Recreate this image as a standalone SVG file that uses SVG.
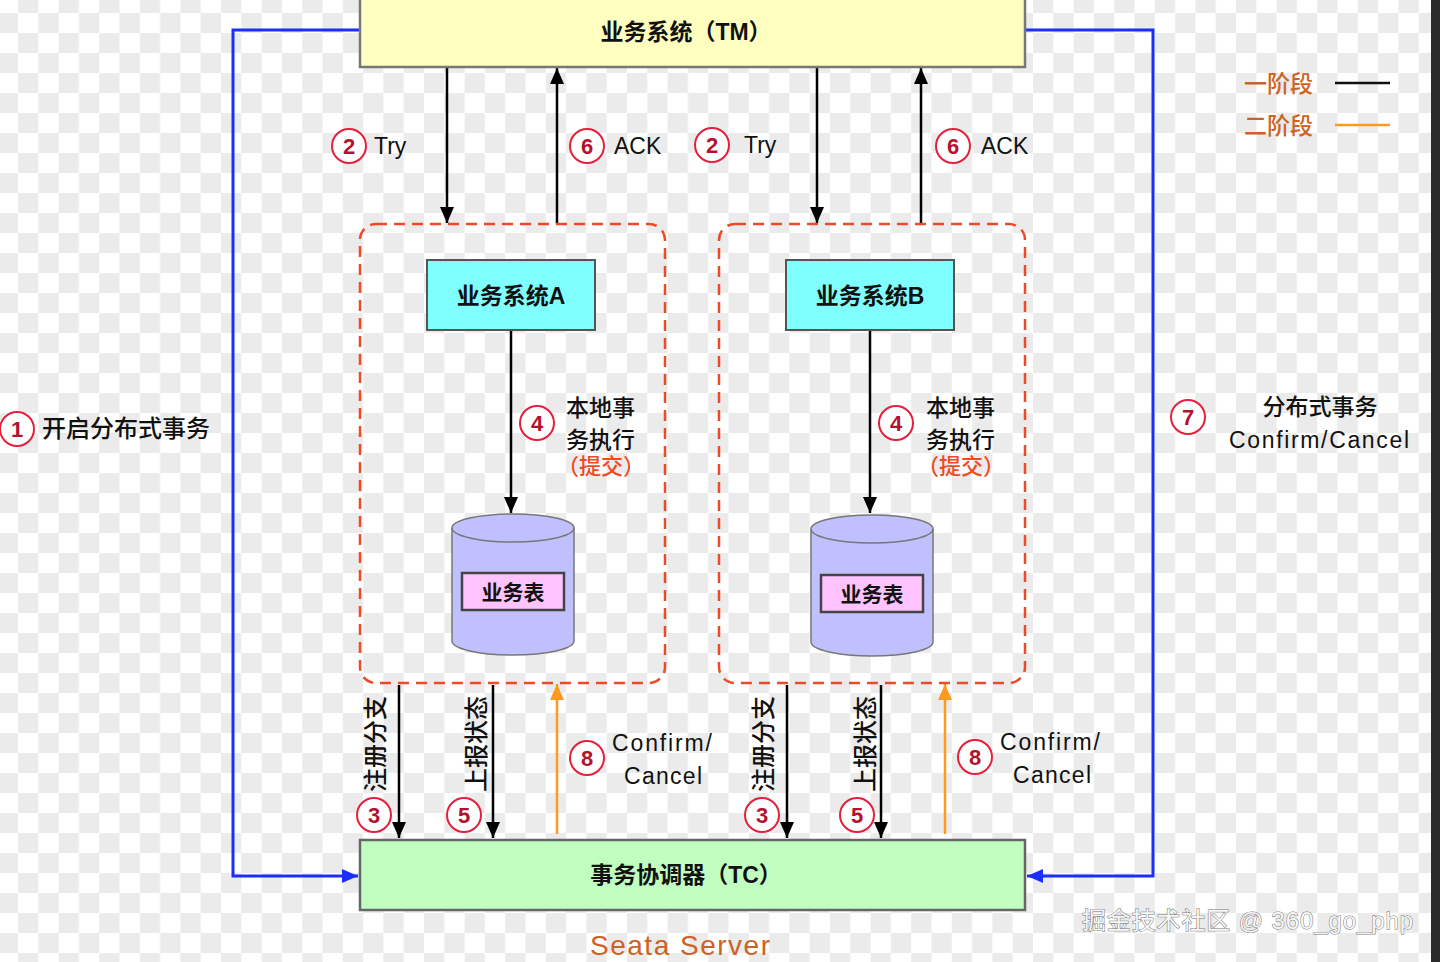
<svg xmlns="http://www.w3.org/2000/svg" width="1440" height="962" viewBox="0 0 1440 962">
<defs>
<pattern id="checker" patternUnits="userSpaceOnUse" x="18" y="13" width="40.6" height="40" >
<rect width="40.6" height="40" fill="#ffffff"/>
<rect x="20.3" y="0" width="20.3" height="20" fill="#ebebeb"/>
<rect x="0" y="20" width="20.3" height="20" fill="#ebebeb"/>
</pattern>
<marker id="ahBlack" markerUnits="userSpaceOnUse" markerWidth="16" markerHeight="14" refX="16" refY="7" orient="auto" viewBox="0 0 16 14">
<path d="M0,0 L16,7 L0,14 z" fill="#000"/>
</marker>
<marker id="ahOrange" markerUnits="userSpaceOnUse" markerWidth="16" markerHeight="14" refX="16" refY="7" orient="auto" viewBox="0 0 16 14">
<path d="M0,0 L16,7 L0,14 z" fill="#ff9a1e"/>
</marker>
<marker id="ahBlue" markerUnits="userSpaceOnUse" markerWidth="16" markerHeight="14" refX="16" refY="7" orient="auto" viewBox="0 0 16 14">
<path d="M0,0 L16,7 L0,14 z" fill="#1a2fff"/>
</marker>
<style>
text{font-family:'Liberation Sans','Noto Sans CJK SC',sans-serif;fill:#111;}
.title{font-size:23px;font-weight:bold;text-anchor:middle;}
.lbl{font-size:23px;}
.cjk{font-size:23px;font-weight:500;}
.num{font-size:22px;font-weight:bold;fill:#b3122e;text-anchor:middle;}
.circ{fill:#ffffff;stroke:#e5203c;stroke-width:2;}
.red{fill:#f04a22;}
.brown{fill:#cc6326;}
.blk{stroke:#000;stroke-width:2.5;fill:none;}
.org{stroke:#ff9a1e;stroke-width:2.5;fill:none;}
.blue{stroke:#1a2fff;stroke-width:3;fill:none;}
.dash{fill:none;stroke:#ee4a28;stroke-width:2.5;stroke-dasharray:11 7;}
.sys{fill:#80ffff;stroke:#555;stroke-width:2;}
.cyl{fill:#c0c0ff;stroke:#777;stroke-width:1.5;}
.tbl{fill:#ffc4ff;stroke:#444;stroke-width:2.5;}
</style>
</defs>
<rect width="1440" height="962" fill="url(#checker)"/>
<rect x="1431" y="0" width="9" height="962" fill="#2b2b2b"/>

<g id="connectors">
<path class="blue" d="M360,30 H233 V876 H358" marker-end="url(#ahBlue)"/>
<path class="blue" d="M1025,30 H1153 V876 H1027" marker-end="url(#ahBlue)"/>
<line class="blk" x1="447" y1="67" x2="447" y2="223" marker-end="url(#ahBlack)"/>
<line class="blk" x1="557" y1="224" x2="557" y2="68" marker-end="url(#ahBlack)"/>
<line class="blk" x1="817" y1="67" x2="817" y2="223" marker-end="url(#ahBlack)"/>
<line class="blk" x1="921" y1="224" x2="921" y2="68" marker-end="url(#ahBlack)"/>
<line class="blk" x1="511" y1="331" x2="511" y2="513" marker-end="url(#ahBlack)"/>
<line class="blk" x1="870" y1="331" x2="870" y2="513" marker-end="url(#ahBlack)"/>
<line class="blk" x1="399" y1="685" x2="399" y2="838" marker-end="url(#ahBlack)"/>
<line class="blk" x1="493" y1="685" x2="493" y2="838" marker-end="url(#ahBlack)"/>
<line class="org" x1="557" y1="834" x2="557" y2="684" marker-end="url(#ahOrange)"/>
<line class="blk" x1="787" y1="685" x2="787" y2="838" marker-end="url(#ahBlack)"/>
<line class="blk" x1="881" y1="685" x2="881" y2="838" marker-end="url(#ahBlack)"/>
<line class="org" x1="945" y1="834" x2="945" y2="684" marker-end="url(#ahOrange)"/>
</g>

<g id="tm">
<rect x="360" y="-5" width="665" height="72" fill="#ffffc0" stroke="#777" stroke-width="2.5"/>
<text class="title" x="686" y="40">业务系统（TM）</text>
</g>

<g id="groupA">
<rect class="dash" x="360" y="224" width="305" height="459" rx="16"/>
</g>
<g id="groupB">
<rect class="dash" x="719" y="224" width="306" height="459" rx="16"/>
</g>

<g id="sysA">
<rect class="sys" x="427" y="260" width="168" height="70"/>
<text class="title" x="511" y="304">业务系统A</text>
</g>
<g id="sysB">
<rect class="sys" x="786" y="260" width="168" height="70"/>
<text class="title" x="870" y="304">业务系统B</text>
</g>

<g id="dbA">
<path class="cyl" d="M452,528 A61,14 0 0 1 574,528 V641 A61,14 0 0 1 452,641 Z"/>
<path fill="none" stroke="#777" stroke-width="1.5" d="M452,528 A61,14 0 0 0 574,528"/>
<rect class="tbl" x="462" y="573" width="102" height="37"/>
<text class="title" x="513" y="600" style="font-size:21px">业务表</text>
</g>
<g id="dbB">
<path class="cyl" d="M811,529 A61,14 0 0 1 933,529 V642 A61,14 0 0 1 811,642 Z"/>
<path fill="none" stroke="#777" stroke-width="1.5" d="M811,529 A61,14 0 0 0 933,529"/>
<rect class="tbl" x="821" y="575" width="102" height="37"/>
<text class="title" x="872" y="602" style="font-size:21px">业务表</text>
</g>

<g id="tc">
<rect x="360" y="840" width="665" height="70" fill="#c0ffc0" stroke="#666" stroke-width="2.5"/>
<text class="title" x="686" y="883">事务协调器（TC）</text>
</g>

<g id="labels">
<circle class="circ" cx="17" cy="429" r="17"/><text class="num" x="17" y="437">1</text>
<text class="cjk" x="42" y="437" style="font-size:24px">开启分布式事务</text>

<circle class="circ" cx="349" cy="146" r="17"/><text class="num" x="349" y="154">2</text>
<text class="lbl" x="374" y="154">Try</text>
<circle class="circ" cx="587" cy="146" r="17"/><text class="num" x="587" y="154">6</text>
<text class="lbl" x="614" y="154">ACK</text>
<circle class="circ" cx="712" cy="145" r="17"/><text class="num" x="712" y="153">2</text>
<text class="lbl" x="744" y="153">Try</text>
<circle class="circ" cx="953" cy="146" r="17"/><text class="num" x="953" y="154">6</text>
<text class="lbl" x="981" y="154">ACK</text>

<circle class="circ" cx="537" cy="423" r="17"/><text class="num" x="537" y="431">4</text>
<text class="cjk" x="566" y="416">本地事</text>
<text class="cjk" x="566" y="448">务执行</text>
<text class="cjk red" x="557" y="474" style="font-size:22px">（提交）</text>
<circle class="circ" cx="896" cy="423" r="17"/><text class="num" x="896" y="431">4</text>
<text class="cjk" x="926" y="416">本地事</text>
<text class="cjk" x="926" y="448">务执行</text>
<text class="cjk red" x="917" y="474" style="font-size:22px">（提交）</text>

<text class="cjk" transform="translate(384,792) rotate(-90)" style="font-size:24px">注册分支</text>
<text class="cjk" transform="translate(485,792) rotate(-90)" style="font-size:24px">上报状态</text>
<text class="cjk" transform="translate(772,792) rotate(-90)" style="font-size:24px">注册分支</text>
<text class="cjk" transform="translate(874,792) rotate(-90)" style="font-size:24px">上报状态</text>

<circle class="circ" cx="374" cy="815" r="17"/><text class="num" x="374" y="823">3</text>
<circle class="circ" cx="464" cy="815" r="17"/><text class="num" x="464" y="823">5</text>
<circle class="circ" cx="762" cy="815" r="17"/><text class="num" x="762" y="823">3</text>
<circle class="circ" cx="857" cy="815" r="17"/><text class="num" x="857" y="823">5</text>

<circle class="circ" cx="587" cy="758" r="17"/><text class="num" x="587" y="766">8</text>
<text class="lbl" x="612" y="751" textLength="100" lengthAdjust="spacing">Confirm/</text>
<text class="lbl" x="624" y="784" textLength="78" lengthAdjust="spacing">Cancel</text>
<circle class="circ" cx="975" cy="757" r="17"/><text class="num" x="975" y="765">8</text>
<text class="lbl" x="1000" y="750" textLength="100" lengthAdjust="spacing">Confirm/</text>
<text class="lbl" x="1013" y="783" textLength="78" lengthAdjust="spacing">Cancel</text>

<circle class="circ" cx="1188" cy="417" r="17"/><text class="num" x="1188" y="425">7</text>
<text class="cjk" x="1320" y="415" style="text-anchor:middle">分布式事务</text>
<text class="lbl" x="1229" y="448" textLength="180" lengthAdjust="spacing">Confirm/Cancel</text>

<text class="cjk brown" x="1244" y="92">一阶段</text>
<line x1="1335" y1="83" x2="1390" y2="83" stroke="#111" stroke-width="2.5"/>
<text class="cjk brown" x="1244" y="134">二阶段</text>
<line x1="1335" y1="125" x2="1390" y2="125" stroke="#ff9a1e" stroke-width="2.5"/>

<text class="brown" x="590" y="955" style="font-size:28px" textLength="180" lengthAdjust="spacing">Seata Server</text>
<text x="1082" y="929" style="font-size:24px;fill:#f6f6f6;stroke:#777;stroke-width:1;paint-order:stroke" textLength="331" lengthAdjust="spacing">掘金技术社区 @ 360_go_php</text>
</g>
</svg>
